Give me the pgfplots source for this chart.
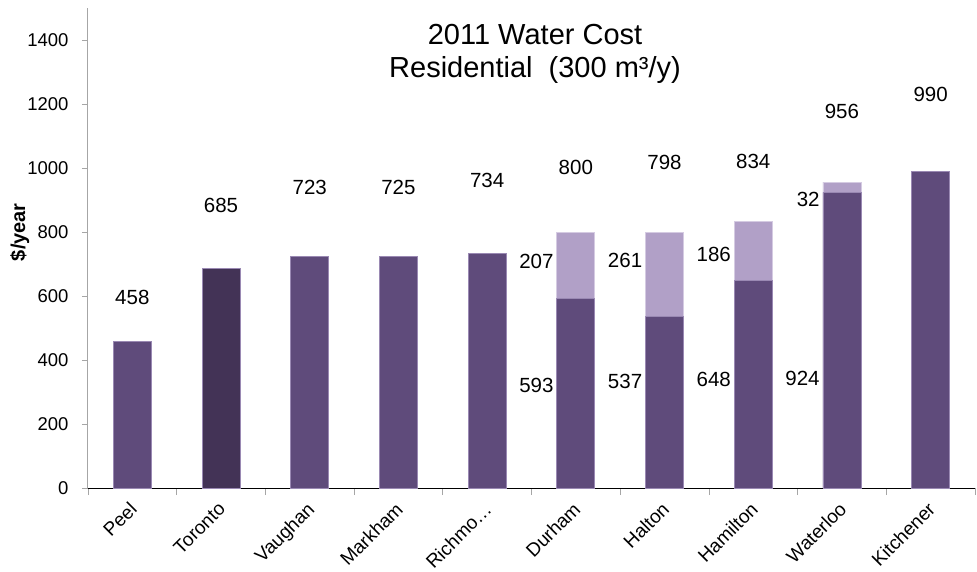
\documentclass[border=0pt]{standalone}
\usepackage{fontspec}
\setmainfont{Liberation Sans}
\usepackage{pgfplots}
\pgfplotsset{compat=1.18}
\definecolor{barmain}{HTML}{5F4B7B}
\definecolor{bardark}{HTML}{433356}
\definecolor{barlight}{HTML}{B1A0C7}
\definecolor{edgemain}{HTML}{9A89B3}
\definecolor{edgelight}{HTML}{D5CBE2}
\definecolor{axgray}{HTML}{A6A6A6}
\begin{document}
\begin{tikzpicture}
\path[use as bounding box] (-88pt,-83pt) rectangle (889pt,488pt);
\begin{axis}[
  scale only axis, width=887pt, height=480pt,
  at={(0pt,0pt)}, anchor=south west,
  xmin=-0.5, xmax=9.5, ymin=0, ymax=1500,
  clip=false,
  axis x line*=bottom, axis y line*=left,
  x axis line style={black, line width=1pt},
  y axis line style={axgray, line width=1pt},
  /pgf/number format/assume math mode=true,
  /pgf/number format/1000 sep={},
  ytick={0,200,...,1400},
  yticklabel style={font=\fontsize{18.5}{20}\selectfont, xshift=-10pt},
  tick align=outside,
  major tick length=6pt,
  minor tick length=7pt,
  ytick style={axgray, line width=0.8pt},
  xtick={0,...,9},
  xticklabels={Peel,Toronto,Vaughan,Markham,Richmo…,Durham,Halton,Hamilton,Waterloo,Kitchener},
  major x tick style={draw=none},
  minor xtick={-0.5,0.5,...,9.5},
  minor x tick style={axgray, line width=0.8pt},
  x tick label style={xshift=-4pt, yshift=-4pt, rotate=45, anchor=north east, inner sep=2pt, font=\fontsize{19}{21}\selectfont},
  ylabel={\$/year},
  every axis y label/.style={at={(axis description cs:-0.077,0.533)}, rotate=90, anchor=center, font=\bfseries\fontsize{20}{22}\selectfont},
  bar width=38pt,
]
% light (total) bars for split categories
\addplot[ybar, bar shift=0pt, fill=barlight, draw=edgelight, line width=0.8pt]
  coordinates {(5,800) (6,798) (7,834) (8,956)};
% main bars
\addplot[ybar, bar shift=0pt, fill=barmain, draw=edgemain, line width=0.8pt]
  coordinates {(0,458) (2,723) (3,725) (4,734) (5,593) (6,537) (7,648) (8,924) (9,990)};
% Toronto
\addplot[ybar, bar shift=0pt, fill=bardark, draw=edgemain, line width=0.8pt]
  coordinates {(1,685)};
% total labels
\addplot[draw=none, mark=none, nodes near coords, point meta=explicit symbolic,
  every node near coord/.append style={anchor=center, inner sep=0pt, font=\fontsize{20.5}{22}\selectfont, text=black}]
  coordinates {(0,596)[458] (1,883)[685] (2,938)[723] (3,939)[725] (4,961)[734]
    (5,1002)[800] (6,1016)[798] (7,1021)[834] (8,1177)[956] (9,1231)[990]};
% segment labels
\addplot[draw=none, mark=none, nodes near coords, point meta=explicit symbolic,
  every node near coord/.append style={anchor=east, inner sep=0pt, font=\fontsize{20.5}{22}\selectfont, text=black}]
  coordinates {(4.75,709)[207] (4.75,321)[593] (5.75,711)[261] (5.75,332)[537]
    (6.75,730)[186] (6.75,339)[648] (7.75,901)[32] (7.75,343)[924]};
\node[anchor=base, font=\fontsize{29}{32}\selectfont] at (axis description cs:0.504,0.923) {2011 Water Cost};
\node[anchor=base, font=\fontsize{29}{32}\selectfont] at (axis description cs:0.504,0.856) {Residential\ \ (300 m³/y)};
\end{axis}
\end{tikzpicture}
\end{document}
